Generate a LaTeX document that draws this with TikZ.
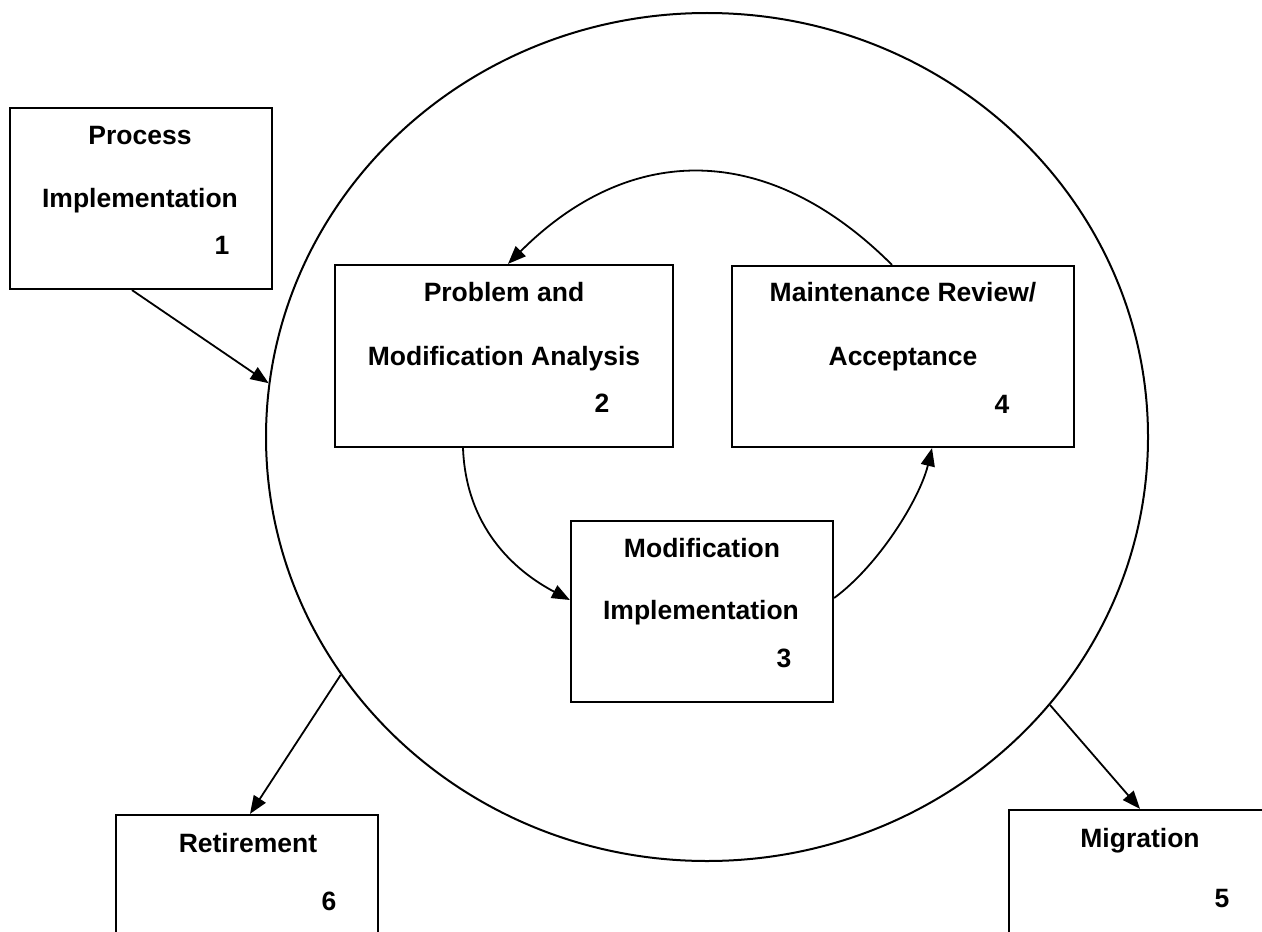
\documentclass[tikz,border=0pt]{standalone}
\usepackage{fontspec}
\setmainfont{Liberation Sans}
\usetikzlibrary{arrows.meta,shapes.geometric}
\begin{document}
\begin{tikzpicture}[x=0.5pt,y=-0.5pt,
  box/.style={draw,line width=1.1pt,inner sep=0pt,rectangle,minimum width=131pt,minimum height=90.5pt},
  lbl/.style={font=\fontsize{13.25}{16}\selectfont\bfseries,anchor=base,inner sep=0pt},
  conn/.style={line width=0.9pt,-{Triangle[length=9pt,width=7pt]}}]
\useasboundingbox (0,0) rectangle (1262,931);
\clip (0,0) rectangle (1262,931);
\fill[white] (0,0) rectangle (1262,931);
% big cycle
\node[draw,ellipse,line width=1pt,minimum width=441pt,minimum height=424pt,inner sep=0pt] (cyc) at (707,437) {};
% boxes
\node[box] (b1) at (141,198.5) {};
\node[box,minimum width=169pt,minimum height=91pt] (b2) at (504,356) {};
\node[box,minimum width=171pt] (b4) at (903,356.5) {};
\node[box] (b3) at (702,611.5) {};
\node[box] (ret) at (247,905.5) {};
\node[box] (mig) at (1140,900.5) {};
% texts
\node[lbl] (t1a) at (140,144) {Process};
\node[lbl] (t1b) at (140,207.5) {Implementation};
\node[lbl] (t1c) at (222,254.5) {1};
\node[lbl] (t2a) at (504,301.5) {Problem and};
\node[lbl] (t2b) at (504,365.5) {Modification Analysis};
\node[lbl] (t2c) at (602,412.5) {2};
\node[lbl] (t4a) at (903,301.5) {Maintenance Review/};
\node[lbl] (t4b) at (903,365.5) {Acceptance};
\node[lbl] (t4c) at (1002,413.5) {4};
\node[lbl] (t3a) at (702,557.5) {Modification};
\node[lbl] (t3b) at (701,619.5) {Implementation};
\node[lbl] (t3c) at (784,667.5) {3};
\node[lbl] (t6a) at (248,852.5) {Retirement};
\node[lbl] (t6b) at (329,910.5) {6};
\node[lbl] (t5a) at (1140,847.5) {Migration};
\node[lbl] (t5b) at (1222,907.5) {5};
% connectors
\draw[conn] ([xshift=-4.5pt]b1.south) -- (cyc.173);
\draw[conn] (cyc.213) -- ([xshift=1.5pt]ret.north);
\draw[conn] (cyc.322) -- (mig.north);
\draw[conn] ([xshift=-20.5pt]b2.south) .. controls +(3,78) and +(-57,-30) .. ([yshift=5.75pt]b3.west);
\draw[conn] ([yshift=6.75pt]b3.east) .. controls +(45,-33) and +(-12,50) .. ([xshift=14.5pt]b4.south);
\draw[conn] ([xshift=-5.5pt]b4.north) .. controls +(-123,-123) and +(123,-123) .. ([xshift=2pt]b2.north);
\end{tikzpicture}
\end{document}
